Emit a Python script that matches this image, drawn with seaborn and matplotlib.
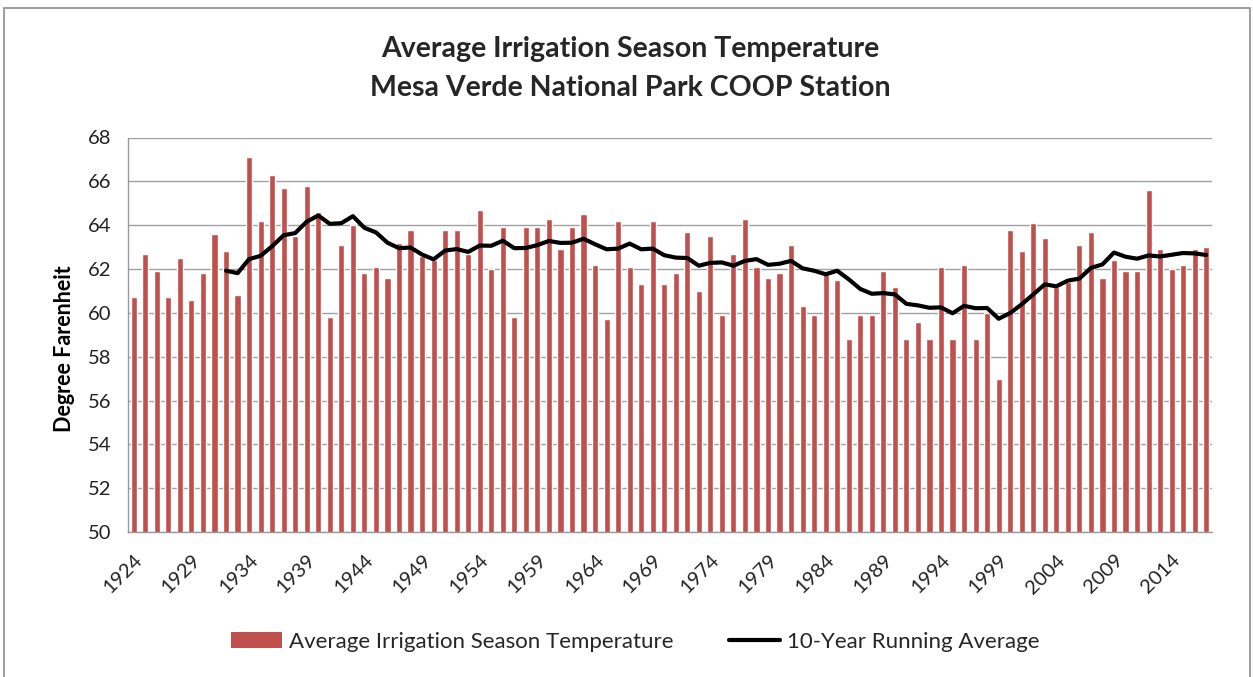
import numpy as np
import pandas as pd
import seaborn as sns
import matplotlib.pyplot as plt
from matplotlib.patches import Rectangle, Patch
from matplotlib.lines import Line2D

# yearly values
years = list(range(1924, 2018))
temps = [60.7, 62.7, 61.9, 60.7, 62.5, 60.6, 61.8, 63.6, 62.8, 60.8,
         67.1, 64.2, 66.3, 65.7, 63.5, 65.8, 64.6, 59.8, 63.1, 64.0,
         61.8, 62.1, 61.6, 63.2, 63.8, 62.6, 62.4, 63.8, 63.8, 62.7,
         64.7, 62.0, 63.9, 59.8, 63.9, 63.9, 64.3, 62.9, 63.9, 64.5,
         62.2, 59.7, 64.2, 62.1, 61.3, 64.2, 61.3, 61.8, 63.7, 61.0,
         63.5, 59.9, 62.7, 64.3, 62.1, 61.6, 61.8, 63.1, 60.3, 59.9,
         61.9, 61.5, 58.8, 59.9, 59.9, 61.9, 61.2, 58.8, 59.6, 58.8,
         62.1, 58.8, 62.2, 58.8, 60.0, 57.0, 63.8, 62.8, 64.1, 63.4,
         61.2, 61.4, 63.1, 63.7, 61.6, 62.4, 61.9, 61.9, 65.6, 62.9,
         62.0, 62.2, 62.9, 63.0]
tick_years = years[::5]

bar_label = 'Average Irrigation Season Temperature'
line_label = '10-Year Running Average'

df = pd.DataFrame({'Year': years, 'Temp': temps})
# window starts one year before the first record, so 1932 averages 9 values
df['Running'] = df['Temp'].rolling(10, min_periods=9).mean()

sns.set_style('white')
plt.rcParams['font.family'] = ['Lato', 'DejaVu Sans']

fig = plt.figure(figsize=(12.53, 6.77), dpi=100)
ax = fig.add_axes([128 / 1253, 1 - 532 / 677, 1084 / 1253, 394.5 / 677])

bar_color = '#C0504D'
sns.barplot(data=df, x='Year', y='Temp', native_scale=True, color=bar_color,
            width=0.53, saturation=1, ax=ax, zorder=2)
sns.lineplot(data=df, x='Year', y='Running', color='black', lw=3, ax=ax, zorder=3)

ax.set_ylim(50, 68)
ax.set_yticks(range(50, 69, 2))
ax.set_xlim(years[0] - 0.5, years[-1] + 0.5)
ax.set_xticks(tick_years)
ax.set_xticklabels([str(y) for y in tick_years], rotation=45, ha='right',
                   rotation_mode='anchor')
ax.set_xticks(np.arange(years[0] - 0.5, years[-1] + 1, 1), minor=True)
ax.tick_params(axis='x', which='major', length=0, pad=14, labelsize=14.5, labelcolor='#222222')
ax.tick_params(axis='x', which='minor', length=5, color='#999999', width=1)
ax.tick_params(axis='y', length=5, color='#999999', width=1, labelsize=14.5,
               labelcolor='#222222', pad=7)
ax.grid(axis='y', color='#a0a0a0', lw=1, zorder=0)
ax.set_axisbelow(True)
for s in ['top', 'right']:
    ax.spines[s].set_visible(False)
for s in ['left', 'bottom']:
    ax.spines[s].set_color('#999999')
    ax.spines[s].set_linewidth(1)

ax.set_xlabel('')
ax.set_ylabel('Degree Farenheit', fontsize=15.5, fontweight='bold', color='black')
ax.yaxis.set_label_coords(-0.049, 0.465)

fig.text(0.503, 1 - 49 / 677, 'Average Irrigation Season Temperature',
         ha='center', va='center', fontsize=20.5, fontweight='bold')
fig.text(0.503, 1 - 88 / 677, 'Mesa Verde National Park COOP Station',
         ha='center', va='center', fontsize=20.5, fontweight='bold')

handles = [Patch(facecolor=bar_color, edgecolor='none'),
           Line2D([], [], color='black', lw=3)]
fig.legend(handles, [bar_label, line_label], loc='center',
           bbox_to_anchor=(0.507, 1 - 642 / 677), ncol=2, frameon=False,
           fontsize=16, handlelength=2.3, handletextpad=0.3, columnspacing=2.5)

# outer chart frame
fig.patches.append(Rectangle((4 / 1253, -0.05), 1246 / 1253, 1.05 - 8 / 677,
                             transform=fig.transFigure, fill=False,
                             edgecolor='#8c8c8c', lw=1.2))

fig.savefig('out.png', dpi=100)
